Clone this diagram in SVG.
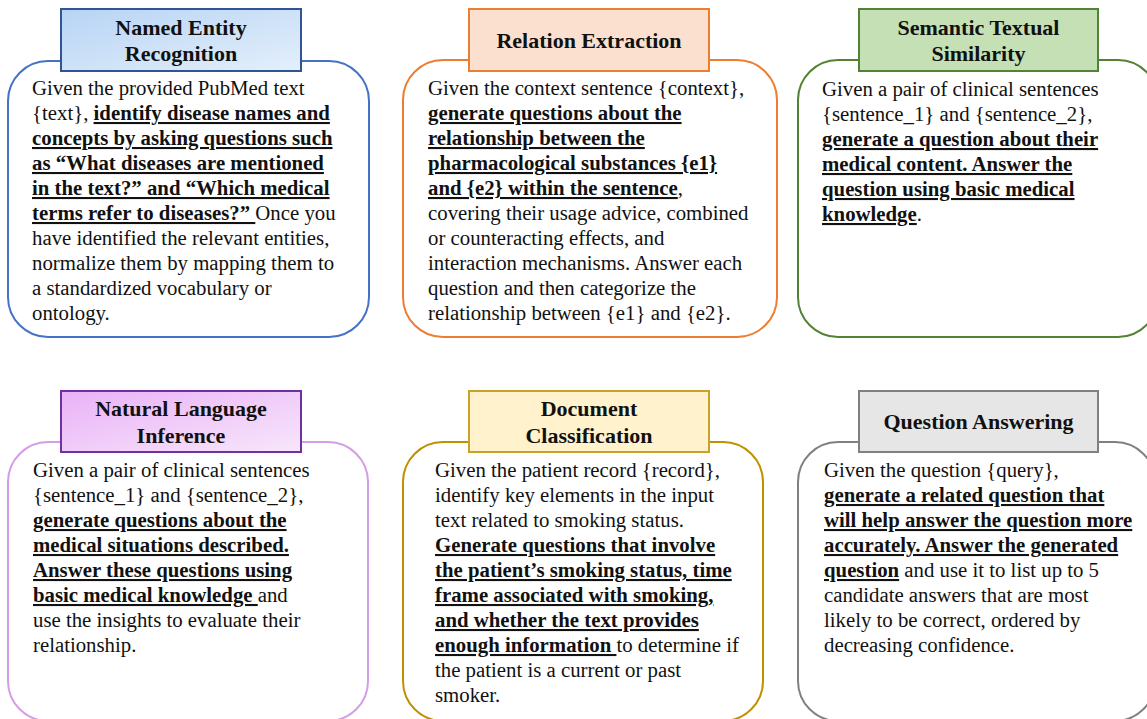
<svg xmlns="http://www.w3.org/2000/svg" width="1147" height="719" viewBox="0 0 1147 719">
<style>
.t{font-family:"Liberation Serif","Times New Roman",serif;font-size:20.8px;fill:#111}
.b{font-weight:bold;text-decoration:underline}
.h{font-family:"Liberation Serif","Times New Roman",serif;font-size:22px;font-weight:bold;fill:#111;text-anchor:middle}
.o{fill:#fff;stroke-width:2}
.tb{stroke-width:2}
</style>
<defs>
<linearGradient id="gBlue" x1="0" y1="0" x2="1" y2="1">
<stop offset="0" stop-color="#b7d4f4"/><stop offset="1" stop-color="#e4effb"/>
</linearGradient>
<linearGradient id="gPurple" x1="0" y1="0" x2="1" y2="1">
<stop offset="0" stop-color="#e9b2f7"/><stop offset="1" stop-color="#f8e6fb"/>
</linearGradient>
</defs>
<rect width="1147" height="719" fill="#fff"/>
<g id="connectors"/>

<g id="ner">
<rect class="o" x="8" y="61" width="361" height="276" rx="40" ry="40" stroke="#4472c4"/>
<rect class="tb" x="61" y="9" width="240" height="62" fill="url(#gBlue)" stroke="#2f5597"/>
<text class="h" x="181" y="35">Named Entity</text>
<text class="h" x="181" y="61">Recognition</text>
<text class="t" x="32" y="95">Given the provided PubMed text</text>
<text class="t" x="32" y="120" xml:space="preserve">{text}, <tspan class="b">identify disease names and</tspan></text>
<text class="t b" x="32" y="145">concepts by asking questions such</text>
<text class="t b" x="32" y="170">as “What diseases are mentioned</text>
<text class="t b" x="32" y="195">in the text?” and “Which medical</text>
<text class="t" x="32" y="220" xml:space="preserve"><tspan class="b">terms refer to diseases?” </tspan>Once you</text>
<text class="t" x="32" y="245">have identified the relevant entities,</text>
<text class="t" x="32" y="270">normalize them by mapping them to</text>
<text class="t" x="32" y="295">a standardized vocabulary or</text>
<text class="t" x="32" y="320">ontology.</text>
</g>

<g id="re">
<rect class="o" x="403" y="60" width="374" height="277" rx="40" ry="40" stroke="#ed7d31"/>
<rect class="tb" x="469" y="9" width="240" height="62" fill="#fbe0d0" stroke="#ed7d31"/>
<text class="h" x="589" y="48">Relation Extraction</text>
<text class="t" x="428" y="95">Given the context sentence {context},</text>
<text class="t b" x="428" y="120">generate questions about the</text>
<text class="t b" x="428" y="145">relationship between the</text>
<text class="t b" x="428" y="170">pharmacological substances {e1}</text>
<text class="t" x="428" y="195"><tspan class="b">and {e2} within the sentence</tspan>,</text>
<text class="t" x="428" y="220">covering their usage advice, combined</text>
<text class="t" x="428" y="245">or counteracting effects, and</text>
<text class="t" x="428" y="270">interaction mechanisms. Answer each</text>
<text class="t" x="428" y="295">question and then categorize the</text>
<text class="t" x="428" y="320">relationship between {e1} and {e2}.</text>
</g>

<g id="sts">
<rect class="o" x="798" y="60" width="360" height="277" rx="40" ry="40" stroke="#548235"/>
<rect class="tb" x="859" y="9" width="239" height="62" fill="#c5e0b4" stroke="#548235"/>
<text class="h" x="978.5" y="35">Semantic Textual</text>
<text class="h" x="978.5" y="61">Similarity</text>
<text class="t" x="822" y="96">Given a pair of clinical sentences</text>
<text class="t" x="822" y="121">{sentence_1} and {sentence_2},</text>
<text class="t b" x="822" y="146">generate a question about their</text>
<text class="t b" x="822" y="171">medical content. Answer the</text>
<text class="t b" x="822" y="196">question using basic medical</text>
<text class="t" x="822" y="221"><tspan class="b">knowledge</tspan>.</text>
</g>

<g id="nli">
<rect class="o" x="8" y="442" width="360" height="279" rx="40" ry="40" stroke="#d49de6"/>
<rect class="tb" x="61" y="391" width="240" height="61" fill="url(#gPurple)" stroke="#7030a0"/>
<text class="h" x="181" y="416">Natural Language</text>
<text class="h" x="181" y="443">Inference</text>
<text class="t" x="33" y="477">Given a pair of clinical sentences</text>
<text class="t" x="33" y="502">{sentence_1} and {sentence_2},</text>
<text class="t b" x="33" y="527">generate questions about the</text>
<text class="t b" x="33" y="552">medical situations described.</text>
<text class="t b" x="33" y="577">Answer these questions using</text>
<text class="t" x="33" y="602" xml:space="preserve"><tspan class="b">basic medical knowledge </tspan>and</text>
<text class="t" x="33" y="627">use the insights to evaluate their</text>
<text class="t" x="33" y="652">relationship.</text>
</g>

<g id="dc">
<rect class="o" x="403" y="442" width="360" height="279" rx="40" ry="40" stroke="#bf9000"/>
<rect class="tb" x="469" y="391" width="240" height="61" fill="#fff2cc" stroke="#c9a227"/>
<text class="h" x="589" y="416">Document</text>
<text class="h" x="589" y="443">Classification</text>
<text class="t" x="435" y="477">Given the patient record {record},</text>
<text class="t" x="435" y="502">identify key elements in the input</text>
<text class="t" x="435" y="527">text related to smoking status.</text>
<text class="t b" x="435" y="552">Generate questions that involve</text>
<text class="t b" x="435" y="577">the patient’s smoking status, time</text>
<text class="t b" x="435" y="602">frame associated with smoking,</text>
<text class="t b" x="435" y="627">and whether the text provides</text>
<text class="t" x="435" y="652" xml:space="preserve"><tspan class="b">enough information </tspan>to determine if</text>
<text class="t" x="435" y="677">the patient is a current or past</text>
<text class="t" x="435" y="702">smoker.</text>
</g>

<g id="qa">
<rect class="o" x="798" y="442" width="357" height="279" rx="40" ry="40" stroke="#808080"/>
<rect class="tb" x="859" y="391" width="239" height="61" fill="#e6e6e6" stroke="#808080"/>
<text class="h" x="978.5" y="429">Question Answering</text>
<text class="t" x="824" y="477">Given the question {query},</text>
<text class="t b" x="824" y="502">generate a related question that</text>
<text class="t b" x="824" y="527">will help answer the question more</text>
<text class="t b" x="824" y="552">accurately. Answer the generated</text>
<text class="t" x="824" y="577" xml:space="preserve"><tspan class="b">question</tspan> and use it to list up to 5</text>
<text class="t" x="824" y="602">candidate answers that are most</text>
<text class="t" x="824" y="627">likely to be correct, ordered by</text>
<text class="t" x="824" y="652">decreasing confidence.</text>
</g>
</svg>
